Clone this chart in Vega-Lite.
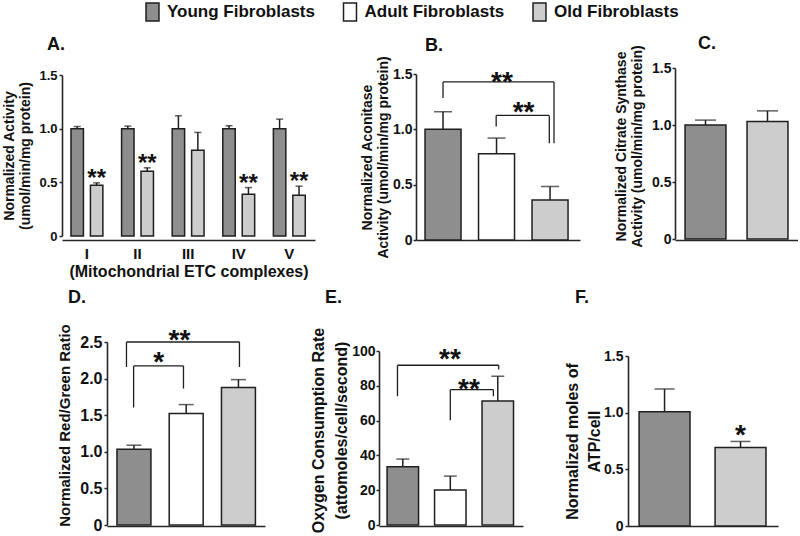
{
"$schema":"https://vega.github.io/schema/vega-lite/v6.json",
"padding":{"left":2,"top":2,"right":0,"bottom":0},
"background":"white",
"config":{
 "font":"Liberation Sans",
 "view":{"stroke":null},
 "axis":{"labelFont":"Liberation Sans","titleFont":"Liberation Sans","labelFontWeight":"bold","titleFontWeight":"bold","labelColor":"#111111","titleColor":"#111111","domainColor":"#262626","domainWidth":1.6,"tickColor":"#262626","tickWidth":1.5,"tickSize":3,"grid":false,"labelOverlap":false},
 "legend":{"labelFont":"Liberation Sans","labelFontSize":17,"labelFontWeight":"bold","labelColor":"#111111","labelLimit":300,"symbolSize":324,"symbolStrokeColor":"#1f1f1f","symbolStrokeWidth":1.5,"labelOffset":4.5,"columnPadding":24.5,"padding":0},
 "title":{"font":"Liberation Sans","fontSize":18,"fontWeight":"bold","color":"#111111","anchor":"start","frame":"group","baseline":"alphabetic"},
 "text":{"font":"Liberation Sans"}
},
"datasets":{
 "bars":[
  {"panel":"A","cat":"I","group":"Young Fibroblasts","value":1.0,"hi":1.02,"sig":""},
  {"panel":"A","cat":"I","group":"Old Fibroblasts","value":0.473,"hi":0.495,"sig":"**"},
  {"panel":"A","cat":"II","group":"Young Fibroblasts","value":1.0,"hi":1.024,"sig":""},
  {"panel":"A","cat":"II","group":"Old Fibroblasts","value":0.604,"hi":0.635,"sig":"**"},
  {"panel":"A","cat":"III","group":"Young Fibroblasts","value":1.0,"hi":1.12,"sig":""},
  {"panel":"A","cat":"III","group":"Old Fibroblasts","value":0.8,"hi":0.965,"sig":""},
  {"panel":"A","cat":"IV","group":"Young Fibroblasts","value":1.0,"hi":1.027,"sig":""},
  {"panel":"A","cat":"IV","group":"Old Fibroblasts","value":0.389,"hi":0.451,"sig":"**"},
  {"panel":"A","cat":"V","group":"Young Fibroblasts","value":1.0,"hi":1.089,"sig":""},
  {"panel":"A","cat":"V","group":"Old Fibroblasts","value":0.38,"hi":0.464,"sig":"**"},
  {"panel":"B","cat":"","group":"Young Fibroblasts","value":1.0,"hi":1.159,"sig":""},
  {"panel":"B","cat":"","group":"Adult Fibroblasts","value":0.779,"hi":0.921,"sig":""},
  {"panel":"B","cat":"","group":"Old Fibroblasts","value":0.362,"hi":0.483,"sig":""},
  {"panel":"C","cat":"","group":"Young Fibroblasts","value":1.0,"hi":1.043,"sig":""},
  {"panel":"C","cat":"","group":"Old Fibroblasts","value":1.031,"hi":1.124,"sig":""},
  {"panel":"D","cat":"","group":"Young Fibroblasts","value":1.036,"hi":1.09,"sig":""},
  {"panel":"D","cat":"","group":"Adult Fibroblasts","value":1.523,"hi":1.645,"sig":""},
  {"panel":"D","cat":"","group":"Old Fibroblasts","value":1.877,"hi":1.986,"sig":""},
  {"panel":"E","cat":"","group":"Young Fibroblasts","value":33.5,"hi":37.9,"sig":""},
  {"panel":"E","cat":"","group":"Adult Fibroblasts","value":20.1,"hi":28.1,"sig":""},
  {"panel":"E","cat":"","group":"Old Fibroblasts","value":71.3,"hi":85.5,"sig":""},
  {"panel":"F","cat":"","group":"Young Fibroblasts","value":1.007,"hi":1.209,"sig":""},
  {"panel":"F","cat":"","group":"Old Fibroblasts","value":0.693,"hi":0.746,"sig":"*"}
 ],
 "brk":[
  {"panel":"B","id":"big","c1":"Young Fibroblasts","c2":"Old Fibroblasts","cs":"Adult Fibroblasts","y1":1.283,"yt":1.428,"y2":0.875,"label":"**"},
  {"panel":"B","id":"small","c1":"Adult Fibroblasts","c2":"Old Fibroblasts","cs":"Adult Fibroblasts","y1":1.026,"yt":1.126,"y2":0.875,"label":"**"},
  {"panel":"D","id":"big","c1":"Young Fibroblasts","c2":"Old Fibroblasts","cs":"Adult Fibroblasts","y1":2.159,"yt":2.5,"y2":2.159,"label":"**"},
  {"panel":"D","id":"small","c1":"Young Fibroblasts","c2":"Adult Fibroblasts","cs":"Young Fibroblasts","y1":1.605,"yt":2.173,"y2":1.864,"label":"*"},
  {"panel":"E","id":"big","c1":"Young Fibroblasts","c2":"Old Fibroblasts","cs":"Adult Fibroblasts","y1":74.0,"yt":91.8,"y2":89.3,"label":"**"},
  {"panel":"E","id":"small","c1":"Adult Fibroblasts","c2":"Old Fibroblasts","cs":"Adult Fibroblasts","y1":60.2,"yt":77.8,"y2":74.0,"label":"**"}
 ]
},
"vconcat":[
 {"hconcat":[
   {"width":253,"height":173,"title":{"text":"A.","dx":-15,"offset":13},
    "layer":[
     {"data":{"name":"bars"},"transform":[{"filter":"datum.panel=='A'"}],"mark":{"type":"bar","stroke":"#1f1f1f","strokeWidth":1.5},
      "encoding":{
       "x":{"field":"cat","type":"nominal","scale":{"domain":["I","II","III","IV","V"],"paddingInner":0.37,"paddingOuter":0.185,"align":0.48},"axis":{"labelAngle":0,"labelFontSize":15,"ticks":false,"tickSize":0,"labelPadding":6,"title":"(Mitochondrial ETC complexes)","titleFontSize":16,"titlePadding":2}},
       "xOffset":{"field":"group","type":"nominal","scale":{"domain":["Young Fibroblasts","Old Fibroblasts"],"paddingInner":0.36,"paddingOuter":0}},
       "y":{"field":"value","type":"quantitative","scale":{"domain":[0,1.5],"nice":false,"range":[169,8]},"axis":{"values":[0,0.5,1,1.5],"tickCount":10,"labelOverlap":false,"labelExpr":"datum.value == 0 ? '0' : format(datum.value, '.1f')","labelFontSize":13,"labelPadding":2,"title":["Normalized Activity","(umol/min/mg protein)"],"titleFontSize":14,"titleLineHeight":16,"titlePadding":6}},
       "fill":{"field":"group","type":"nominal","scale":{"domain":["Young Fibroblasts","Adult Fibroblasts","Old Fibroblasts"],"range":["#8e8e8e","#ffffff","#cdcdcd"]},"legend":{"title":null,"orient":"none","legendX":80.5,"legendY":-65,"direction":"horizontal","symbolType":"M-0.72,-1H0.72V1H-0.72Z"}}}},
     {"data":{"name":"bars"},"transform":[{"filter":"datum.panel=='A'"}],"mark":{"type":"rule","color":"#1f1f1f","strokeWidth":1.5},
      "encoding":{"x":{"field":"cat","type":"nominal","scale":{"domain":["I","II","III","IV","V"]}},"xOffset":{"field":"group","type":"nominal","scale":{"domain":["Young Fibroblasts","Old Fibroblasts"]}},"y":{"field":"value","type":"quantitative","scale":{"domain":[0,1.5]}},"y2":{"field":"hi"}}},
     {"data":{"name":"bars"},"transform":[{"filter":"datum.panel=='A'"}],"mark":{"type":"tick","orient":"horizontal","size":7,"thickness":1.5,"color":"#1f1f1f"},
      "encoding":{"x":{"field":"cat","type":"nominal","scale":{"domain":["I","II","III","IV","V"]}},"xOffset":{"field":"group","type":"nominal","scale":{"domain":["Young Fibroblasts","Old Fibroblasts"]}},"y":{"field":"hi","type":"quantitative","scale":{"domain":[0,1.5]}}}},
     {"data":{"name":"bars"},"transform":[{"filter":"datum.panel=='A' && datum.sig != ''"}],"mark":{"type":"text","fontSize":24,"fontWeight":"bold","dy":3,"baseline":"alphabetic","align":"center","color":"#111111"},
      "encoding":{"x":{"field":"cat","type":"nominal","scale":{"domain":["I","II","III","IV","V"]}},"xOffset":{"field":"group","type":"nominal","scale":{"domain":["Young Fibroblasts","Old Fibroblasts"]}},"y":{"field":"hi","type":"quantitative","scale":{"domain":[0,1.5]}},"text":{"field":"sig"}}}
    ]},
  {"width":101,"height":1,"data":{"values":[{}]},"mark":{"type":"point","opacity":0}},
   {"width":164,"height":173,"title":{"text":"B.","dx":9,"offset":1},
    "layer":[
     {"data":{"name":"bars"},"transform":[{"filter":"datum.panel=='B'"}],"mark":{"type":"bar","stroke":"#1f1f1f","strokeWidth":1.5},
      "encoding":{
       "x":{"field":"group","type":"nominal","scale":{"domain":["Young Fibroblasts","Adult Fibroblasts","Old Fibroblasts"],"paddingInner":0.327,"paddingOuter":0.196,"align":0.43},"axis":{"labels":false,"ticks":false,"title":null}},
       "y":{"field":"value","type":"quantitative","scale":{"domain":[0,1.5],"nice":false,"range":[173,7]},"axis":{"values":[0,0.5,1,1.5],"tickCount":10,"labelOverlap":false,"labelExpr":"datum.value == 0 ? '0' : format(datum.value, '.1f')","labelFontSize":14,"labelPadding":1,"title":["Normalized Aconitase","Activity (umol/min/mg protein)"],"titleFontSize":14,"titleLineHeight":16,"titlePadding":2}},
       "fill":{"field":"group","type":"nominal","scale":{"domain":["Young Fibroblasts","Adult Fibroblasts","Old Fibroblasts"],"range":["#8e8e8e","#ffffff","#cdcdcd"]},"legend":{"title":null,"orient":"none","legendX":80.5,"legendY":-65,"direction":"horizontal","symbolType":"M-0.72,-1H0.72V1H-0.72Z"}}}},
     {"data":{"name":"bars"},"transform":[{"filter":"datum.panel=='B'"}],"mark":{"type":"rule","color":"#1f1f1f","strokeWidth":1.5},
      "encoding":{"x":{"field":"group","type":"nominal","scale":{"domain":["Young Fibroblasts","Adult Fibroblasts","Old Fibroblasts"]}},"y":{"field":"value","type":"quantitative","scale":{"domain":[0,1.5]}},"y2":{"field":"hi"}}},
     {"data":{"name":"bars"},"transform":[{"filter":"datum.panel=='B'"}],"mark":{"type":"tick","orient":"horizontal","size":18,"thickness":1.5,"color":"#1f1f1f"},
      "encoding":{"x":{"field":"group","type":"nominal","scale":{"domain":["Young Fibroblasts","Adult Fibroblasts","Old Fibroblasts"]}},"y":{"field":"hi","type":"quantitative","scale":{"domain":[0,1.5]}}}},
     {"data":{"name":"brk"},"transform":[{"filter":"datum.panel=='B' && datum.id=='big'"}],"mark":{"type":"rule","color":"#1f1f1f","strokeWidth":1.3},
      "encoding":{"x":{"field":"c1","type":"nominal","bandPosition":0.5,"scale":{"domain":["Young Fibroblasts","Adult Fibroblasts","Old Fibroblasts"]}},"y":{"field":"y1","type":"quantitative","scale":{"domain":[0,1.5]}},"y2":{"field":"yt"}}},
     {"data":{"name":"brk"},"transform":[{"filter":"datum.panel=='B' && datum.id=='big'"}],"mark":{"type":"rule","color":"#1f1f1f","strokeWidth":1.3},
      "encoding":{"x":{"field":"c2","type":"nominal","bandPosition":0.61,"scale":{"domain":["Young Fibroblasts","Adult Fibroblasts","Old Fibroblasts"]}},"y":{"field":"y2","type":"quantitative","scale":{"domain":[0,1.5]}},"y2":{"field":"yt"}}},
     {"data":{"name":"brk"},"transform":[{"filter":"datum.panel=='B' && datum.id=='big'"}],"mark":{"type":"rule","color":"#1f1f1f","strokeWidth":1.3},
      "encoding":{"x":{"field":"c1","type":"nominal","bandPosition":0.5,"scale":{"domain":["Young Fibroblasts","Adult Fibroblasts","Old Fibroblasts"]}},"x2":{"field":"c2","bandPosition":0.61},"y":{"field":"yt","type":"quantitative","scale":{"domain":[0,1.5]}}}},
     {"data":{"name":"brk"},"transform":[{"filter":"datum.panel=='B' && datum.id=='big'"}],"mark":{"type":"text","fontSize":28,"fontWeight":"bold","dy":9,"baseline":"alphabetic","align":"center","color":"#111111"},
      "encoding":{"x":{"field":"cs","type":"nominal","bandPosition":0.65,"scale":{"domain":["Young Fibroblasts","Adult Fibroblasts","Old Fibroblasts"]}},"y":{"field":"yt","type":"quantitative","scale":{"domain":[0,1.5]}},"text":{"field":"label"}}},
     {"data":{"name":"brk"},"transform":[{"filter":"datum.panel=='B' && datum.id=='small'"}],"mark":{"type":"rule","color":"#1f1f1f","strokeWidth":1.3},
      "encoding":{"x":{"field":"c1","type":"nominal","bandPosition":0.49,"scale":{"domain":["Young Fibroblasts","Adult Fibroblasts","Old Fibroblasts"]}},"y":{"field":"y1","type":"quantitative","scale":{"domain":[0,1.5]}},"y2":{"field":"yt"}}},
     {"data":{"name":"brk"},"transform":[{"filter":"datum.panel=='B' && datum.id=='small'"}],"mark":{"type":"rule","color":"#1f1f1f","strokeWidth":1.3},
      "encoding":{"x":{"field":"c2","type":"nominal","bandPosition":0.48,"scale":{"domain":["Young Fibroblasts","Adult Fibroblasts","Old Fibroblasts"]}},"y":{"field":"y2","type":"quantitative","scale":{"domain":[0,1.5]}},"y2":{"field":"yt"}}},
     {"data":{"name":"brk"},"transform":[{"filter":"datum.panel=='B' && datum.id=='small'"}],"mark":{"type":"rule","color":"#1f1f1f","strokeWidth":1.3},
      "encoding":{"x":{"field":"c1","type":"nominal","bandPosition":0.49,"scale":{"domain":["Young Fibroblasts","Adult Fibroblasts","Old Fibroblasts"]}},"x2":{"field":"c2","bandPosition":0.48},"y":{"field":"yt","type":"quantitative","scale":{"domain":[0,1.5]}}}},
     {"data":{"name":"brk"},"transform":[{"filter":"datum.panel=='B' && datum.id=='small'"}],"mark":{"type":"text","fontSize":28,"fontWeight":"bold","dy":6,"baseline":"alphabetic","align":"center","color":"#111111"},
      "encoding":{"x":{"field":"cs","type":"nominal","bandPosition":1.25,"scale":{"domain":["Young Fibroblasts","Adult Fibroblasts","Old Fibroblasts"]}},"y":{"field":"yt","type":"quantitative","scale":{"domain":[0,1.5]}},"text":{"field":"label"}}}
    ]},
  {"width":95,"height":1,"data":{"values":[{}]},"mark":{"type":"point","opacity":0}},
  {"width":123,"height":173,"title":{"text":"C.","dx":23,"offset":-8},
   "layer":[
    {"data":{"name":"bars"},"transform":[{"filter":"datum.panel=='C'"}],"mark":{"type":"bar","stroke":"#1f1f1f","strokeWidth":1.5},
     "encoding":{
      "x":{"field":"group","type":"nominal","scale":{"domain":["Young Fibroblasts","Old Fibroblasts"],"paddingInner":0.34,"paddingOuter":0.162,"align":0.5},"axis":{"labels":false,"ticks":false,"title":null}},
      "y":{"field":"value","type":"quantitative","scale":{"domain":[0,1.5],"nice":false,"range":[172,1]},"axis":{"values":[0,0.5,1,1.5],"tickCount":10,"labelOverlap":false,"labelExpr":"datum.value == 0 ? '0' : format(datum.value, '.1f')","labelFontSize":14,"labelPadding":1,"title":["Normalized Citrate Synthase","Activity (umol/min/mg protein)"],"titleFontSize":14,"titleLineHeight":16,"titlePadding":7,"titleY":79}},
      "fill":{"field":"group","type":"nominal","scale":{"domain":["Young Fibroblasts","Adult Fibroblasts","Old Fibroblasts"],"range":["#8e8e8e","#ffffff","#cdcdcd"]},"legend":{"title":null,"orient":"none","legendX":80.5,"legendY":-65,"direction":"horizontal","symbolType":"M-0.72,-1H0.72V1H-0.72Z"}}}},
    {"data":{"name":"bars"},"transform":[{"filter":"datum.panel=='C'"}],"mark":{"type":"rule","color":"#1f1f1f","strokeWidth":1.5},
     "encoding":{"x":{"field":"group","type":"nominal","scale":{"domain":["Young Fibroblasts","Old Fibroblasts"]}},"y":{"field":"value","type":"quantitative","scale":{"domain":[0,1.5]}},"y2":{"field":"hi"}}},
    {"data":{"name":"bars"},"transform":[{"filter":"datum.panel=='C'"}],"mark":{"type":"tick","orient":"horizontal","size":21,"thickness":1.5,"color":"#1f1f1f"},
     "encoding":{"x":{"field":"group","type":"nominal","scale":{"domain":["Young Fibroblasts","Old Fibroblasts"]}},"y":{"field":"hi","type":"quantitative","scale":{"domain":[0,1.5]}}}}
   ]}
 ],"spacing":0,"bounds":"flush"},
 {"hconcat":[
  {"width":45,"height":1,"data":{"values":[{}]},"mark":{"type":"point","opacity":0}},
  {"width":158,"height":184,"title":{"text":"D.","dx":-39,"offset":17},
   "layer":[
    {"data":{"name":"bars"},"transform":[{"filter":"datum.panel=='D'"}],"mark":{"type":"bar","stroke":"#1f1f1f","strokeWidth":1.5},
     "encoding":{
      "x":{"field":"group","type":"nominal","scale":{"domain":["Young Fibroblasts","Adult Fibroblasts","Old Fibroblasts"],"paddingInner":0.35,"paddingOuter":0.187,"align":0.51},"axis":{"labels":false,"ticks":false,"title":null}},
      "y":{"field":"value","type":"quantitative","scale":{"domain":[0,2.5],"nice":false,"range":[183,0]},"axis":{"values":[0,0.5,1,1.5,2,2.5],"tickCount":10,"labelOverlap":false,"labelExpr":"datum.value == 0 ? '0' : format(datum.value, '.1f')","labelFontSize":16,"labelPadding":2,"title":"Normalized Red/Green Ratio","titleFontSize":15,"titlePadding":7,"titleY":83}},
      "fill":{"field":"group","type":"nominal","scale":{"domain":["Young Fibroblasts","Adult Fibroblasts","Old Fibroblasts"],"range":["#8e8e8e","#ffffff","#cdcdcd"]},"legend":{"title":null,"orient":"none","legendX":80.5,"legendY":-65,"direction":"horizontal","symbolType":"M-0.72,-1H0.72V1H-0.72Z"}}}},
    {"data":{"name":"bars"},"transform":[{"filter":"datum.panel=='D'"}],"mark":{"type":"rule","color":"#1f1f1f","strokeWidth":1.5},
     "encoding":{"x":{"field":"group","type":"nominal","scale":{"domain":["Young Fibroblasts","Adult Fibroblasts","Old Fibroblasts"]}},"y":{"field":"value","type":"quantitative","scale":{"domain":[0,2.5]}},"y2":{"field":"hi"}}},
    {"data":{"name":"bars"},"transform":[{"filter":"datum.panel=='D'"}],"mark":{"type":"tick","orient":"horizontal","size":15,"thickness":1.5,"color":"#1f1f1f"},
     "encoding":{"x":{"field":"group","type":"nominal","scale":{"domain":["Young Fibroblasts","Adult Fibroblasts","Old Fibroblasts"]}},"y":{"field":"hi","type":"quantitative","scale":{"domain":[0,2.5]}}}},
    {"data":{"name":"brk"},"transform":[{"filter":"datum.panel=='D' && datum.id=='big'"}],"mark":{"type":"rule","color":"#1f1f1f","strokeWidth":1.3},
     "encoding":{"x":{"field":"c1","type":"nominal","bandPosition":0.28,"scale":{"domain":["Young Fibroblasts","Adult Fibroblasts","Old Fibroblasts"]}},"y":{"field":"y1","type":"quantitative","scale":{"domain":[0,2.5]}},"y2":{"field":"yt"}}},
    {"data":{"name":"brk"},"transform":[{"filter":"datum.panel=='D' && datum.id=='big'"}],"mark":{"type":"rule","color":"#1f1f1f","strokeWidth":1.3},
     "encoding":{"x":{"field":"c2","type":"nominal","bandPosition":0.53,"scale":{"domain":["Young Fibroblasts","Adult Fibroblasts","Old Fibroblasts"]}},"y":{"field":"y2","type":"quantitative","scale":{"domain":[0,2.5]}},"y2":{"field":"yt"}}},
    {"data":{"name":"brk"},"transform":[{"filter":"datum.panel=='D' && datum.id=='big'"}],"mark":{"type":"rule","color":"#1f1f1f","strokeWidth":1.3},
     "encoding":{"x":{"field":"c1","type":"nominal","bandPosition":0.28,"scale":{"domain":["Young Fibroblasts","Adult Fibroblasts","Old Fibroblasts"]}},"x2":{"field":"c2","bandPosition":0.53},"y":{"field":"yt","type":"quantitative","scale":{"domain":[0,2.5]}}}},
    {"data":{"name":"brk"},"transform":[{"filter":"datum.panel=='D' && datum.id=='big'"}],"mark":{"type":"text","fontSize":28,"fontWeight":"bold","dy":7,"baseline":"alphabetic","align":"center","color":"#111111"},
     "encoding":{"x":{"field":"cs","type":"nominal","bandPosition":0.3,"scale":{"domain":["Young Fibroblasts","Adult Fibroblasts","Old Fibroblasts"]}},"y":{"field":"yt","type":"quantitative","scale":{"domain":[0,2.5]}},"text":{"field":"label"}}},
    {"data":{"name":"brk"},"transform":[{"filter":"datum.panel=='D' && datum.id=='small'"}],"mark":{"type":"rule","color":"#1f1f1f","strokeWidth":1.3},
     "encoding":{"x":{"field":"c1","type":"nominal","bandPosition":0.49,"scale":{"domain":["Young Fibroblasts","Adult Fibroblasts","Old Fibroblasts"]}},"y":{"field":"y1","type":"quantitative","scale":{"domain":[0,2.5]}},"y2":{"field":"yt"}}},
    {"data":{"name":"brk"},"transform":[{"filter":"datum.panel=='D' && datum.id=='small'"}],"mark":{"type":"rule","color":"#1f1f1f","strokeWidth":1.3},
     "encoding":{"x":{"field":"c2","type":"nominal","bandPosition":0.42,"scale":{"domain":["Young Fibroblasts","Adult Fibroblasts","Old Fibroblasts"]}},"y":{"field":"y2","type":"quantitative","scale":{"domain":[0,2.5]}},"y2":{"field":"yt"}}},
    {"data":{"name":"brk"},"transform":[{"filter":"datum.panel=='D' && datum.id=='small'"}],"mark":{"type":"rule","color":"#1f1f1f","strokeWidth":1.3},
     "encoding":{"x":{"field":"c1","type":"nominal","bandPosition":0.49,"scale":{"domain":["Young Fibroblasts","Adult Fibroblasts","Old Fibroblasts"]}},"x2":{"field":"c2","bandPosition":0.42},"y":{"field":"yt","type":"quantitative","scale":{"domain":[0,2.5]}}}},
    {"data":{"name":"brk"},"transform":[{"filter":"datum.panel=='D' && datum.id=='small'"}],"mark":{"type":"text","fontSize":28,"fontWeight":"bold","dy":5,"baseline":"alphabetic","align":"center","color":"#111111"},
     "encoding":{"x":{"field":"cs","type":"nominal","bandPosition":1.23,"scale":{"domain":["Young Fibroblasts","Adult Fibroblasts","Old Fibroblasts"]}},"y":{"field":"yt","type":"quantitative","scale":{"domain":[0,2.5]}},"text":{"field":"label"}}}
   ]},
  {"width":114,"height":1,"data":{"values":[{}]},"mark":{"type":"point","opacity":0}},
   {"width":144,"height":184,"title":{"text":"E.","dx":-54,"offset":20},
    "layer":[
     {"data":{"name":"bars"},"transform":[{"filter":"datum.panel=='E'"}],"mark":{"type":"bar","stroke":"#1f1f1f","strokeWidth":1.5},
      "encoding":{
       "x":{"field":"group","type":"nominal","scale":{"domain":["Young Fibroblasts","Adult Fibroblasts","Old Fibroblasts"],"paddingInner":0.337,"paddingOuter":0.185,"align":0.46},"axis":{"labels":false,"ticks":false,"title":null}},
       "y":{"field":"value","type":"quantitative","scale":{"domain":[0,100],"nice":false,"range":[183,9]},"axis":{"values":[0,20,40,60,80,100],"tickCount":10,"labelOverlap":false,"labelFontSize":14,"labelPadding":1,"title":["Oxygen Consumption Rate","(attomoles/cell/second)"],"titleFontSize":16,"titleLineHeight":23,"titlePadding":2,"titleY":88}},
       "fill":{"field":"group","type":"nominal","scale":{"domain":["Young Fibroblasts","Adult Fibroblasts","Old Fibroblasts"],"range":["#8e8e8e","#ffffff","#cdcdcd"]},"legend":{"title":null,"orient":"none","legendX":80.5,"legendY":-65,"direction":"horizontal","symbolType":"M-0.72,-1H0.72V1H-0.72Z"}}}},
     {"data":{"name":"bars"},"transform":[{"filter":"datum.panel=='E'"}],"mark":{"type":"rule","color":"#1f1f1f","strokeWidth":1.5},
      "encoding":{"x":{"field":"group","type":"nominal","scale":{"domain":["Young Fibroblasts","Adult Fibroblasts","Old Fibroblasts"]}},"y":{"field":"value","type":"quantitative","scale":{"domain":[0,100]}},"y2":{"field":"hi"}}},
     {"data":{"name":"bars"},"transform":[{"filter":"datum.panel=='E'"}],"mark":{"type":"tick","orient":"horizontal","size":13,"thickness":1.5,"color":"#1f1f1f"},
      "encoding":{"x":{"field":"group","type":"nominal","scale":{"domain":["Young Fibroblasts","Adult Fibroblasts","Old Fibroblasts"]}},"y":{"field":"hi","type":"quantitative","scale":{"domain":[0,100]}}}},
     {"data":{"name":"brk"},"transform":[{"filter":"datum.panel=='E' && datum.id=='big'"}],"mark":{"type":"rule","color":"#1f1f1f","strokeWidth":1.3},
      "encoding":{"x":{"field":"c1","type":"nominal","bandPosition":0.33,"scale":{"domain":["Young Fibroblasts","Adult Fibroblasts","Old Fibroblasts"]}},"y":{"field":"y1","type":"quantitative","scale":{"domain":[0,100]}},"y2":{"field":"yt"}}},
     {"data":{"name":"brk"},"transform":[{"filter":"datum.panel=='E' && datum.id=='big'"}],"mark":{"type":"rule","color":"#1f1f1f","strokeWidth":1.3},
      "encoding":{"x":{"field":"c2","type":"nominal","bandPosition":0.53,"scale":{"domain":["Young Fibroblasts","Adult Fibroblasts","Old Fibroblasts"]}},"y":{"field":"y2","type":"quantitative","scale":{"domain":[0,100]}},"y2":{"field":"yt"}}},
     {"data":{"name":"brk"},"transform":[{"filter":"datum.panel=='E' && datum.id=='big'"}],"mark":{"type":"rule","color":"#1f1f1f","strokeWidth":1.3},
      "encoding":{"x":{"field":"c1","type":"nominal","bandPosition":0.33,"scale":{"domain":["Young Fibroblasts","Adult Fibroblasts","Old Fibroblasts"]}},"x2":{"field":"c2","bandPosition":0.53},"y":{"field":"yt","type":"quantitative","scale":{"domain":[0,100]}}}},
     {"data":{"name":"brk"},"transform":[{"filter":"datum.panel=='E' && datum.id=='big'"}],"mark":{"type":"text","fontSize":28,"fontWeight":"bold","dy":3,"baseline":"alphabetic","align":"center","color":"#111111"},
      "encoding":{"x":{"field":"cs","type":"nominal","bandPosition":0.49,"scale":{"domain":["Young Fibroblasts","Adult Fibroblasts","Old Fibroblasts"]}},"y":{"field":"yt","type":"quantitative","scale":{"domain":[0,100]}},"text":{"field":"label"}}},
     {"data":{"name":"brk"},"transform":[{"filter":"datum.panel=='E' && datum.id=='small'"}],"mark":{"type":"rule","color":"#1f1f1f","strokeWidth":1.3},
      "encoding":{"x":{"field":"c1","type":"nominal","bandPosition":0.5,"scale":{"domain":["Young Fibroblasts","Adult Fibroblasts","Old Fibroblasts"]}},"y":{"field":"y1","type":"quantitative","scale":{"domain":[0,100]}},"y2":{"field":"yt"}}},
     {"data":{"name":"brk"},"transform":[{"filter":"datum.panel=='E' && datum.id=='small'"}],"mark":{"type":"rule","color":"#1f1f1f","strokeWidth":1.3},
      "encoding":{"x":{"field":"c2","type":"nominal","bandPosition":0.36,"scale":{"domain":["Young Fibroblasts","Adult Fibroblasts","Old Fibroblasts"]}},"y":{"field":"y2","type":"quantitative","scale":{"domain":[0,100]}},"y2":{"field":"yt"}}},
     {"data":{"name":"brk"},"transform":[{"filter":"datum.panel=='E' && datum.id=='small'"}],"mark":{"type":"rule","color":"#1f1f1f","strokeWidth":1.3},
      "encoding":{"x":{"field":"c1","type":"nominal","bandPosition":0.5,"scale":{"domain":["Young Fibroblasts","Adult Fibroblasts","Old Fibroblasts"]}},"x2":{"field":"c2","bandPosition":0.36},"y":{"field":"yt","type":"quantitative","scale":{"domain":[0,100]}}}},
     {"data":{"name":"brk"},"transform":[{"filter":"datum.panel=='E' && datum.id=='small'"}],"mark":{"type":"text","fontSize":28,"fontWeight":"bold","dy":8,"baseline":"alphabetic","align":"center","color":"#111111"},
      "encoding":{"x":{"field":"cs","type":"nominal","bandPosition":1.09,"scale":{"domain":["Young Fibroblasts","Adult Fibroblasts","Old Fibroblasts"]}},"y":{"field":"yt","type":"quantitative","scale":{"domain":[0,100]}},"text":{"field":"label"}}}
    ]},
  {"width":105,"height":1,"data":{"values":[{}]},"mark":{"type":"point","opacity":0}},
   {"width":150,"height":184,"title":{"text":"F.","dx":-53,"offset":35},
    "layer":[
     {"data":{"name":"bars"},"transform":[{"filter":"datum.panel=='F'"}],"mark":{"type":"bar","stroke":"#1f1f1f","strokeWidth":1.5},
      "encoding":{
       "x":{"field":"group","type":"nominal","scale":{"domain":["Young Fibroblasts","Old Fibroblasts"],"paddingInner":0.33,"paddingOuter":0.152,"align":0.48},"axis":{"labels":false,"ticks":false,"title":null}},
       "y":{"field":"value","type":"quantitative","scale":{"domain":[0,1.5],"nice":false,"range":[184,14]},"axis":{"values":[0,0.5,1,1.5],"tickCount":10,"labelOverlap":false,"labelExpr":"datum.value == 0 ? '0' : format(datum.value, '.1f')","labelFontSize":14,"labelPadding":2,"title":["Normalized moles of","ATP/cell"],"titleFontSize":16,"titleLineHeight":22,"titlePadding":1}},
       "fill":{"field":"group","type":"nominal","scale":{"domain":["Young Fibroblasts","Adult Fibroblasts","Old Fibroblasts"],"range":["#8e8e8e","#ffffff","#cdcdcd"]},"legend":{"title":null,"orient":"none","legendX":80.5,"legendY":-65,"direction":"horizontal","symbolType":"M-0.72,-1H0.72V1H-0.72Z"}}}},
     {"data":{"name":"bars"},"transform":[{"filter":"datum.panel=='F'"}],"mark":{"type":"rule","color":"#1f1f1f","strokeWidth":1.5},
      "encoding":{"x":{"field":"group","type":"nominal","scale":{"domain":["Young Fibroblasts","Old Fibroblasts"]}},"y":{"field":"value","type":"quantitative","scale":{"domain":[0,1.5]}},"y2":{"field":"hi"}}},
     {"data":{"name":"bars"},"transform":[{"filter":"datum.panel=='F'"}],"mark":{"type":"tick","orient":"horizontal","size":20,"thickness":1.5,"color":"#1f1f1f"},
      "encoding":{"x":{"field":"group","type":"nominal","scale":{"domain":["Young Fibroblasts","Old Fibroblasts"]}},"y":{"field":"hi","type":"quantitative","scale":{"domain":[0,1.5]}}}},
     {"data":{"name":"bars"},"transform":[{"filter":"datum.panel=='F' && datum.sig != ''"}],"mark":{"type":"text","fontSize":28,"fontWeight":"bold","dy":3,"baseline":"alphabetic","align":"center","color":"#111111"},
      "encoding":{"x":{"field":"group","type":"nominal","scale":{"domain":["Young Fibroblasts","Old Fibroblasts"]}},"y":{"field":"hi","type":"quantitative","scale":{"domain":[0,1.5]}},"text":{"field":"sig"}}}
    ]}
 ],"spacing":0,"bounds":"flush"}
],
"spacing":275,
"bounds":"flush"
}
